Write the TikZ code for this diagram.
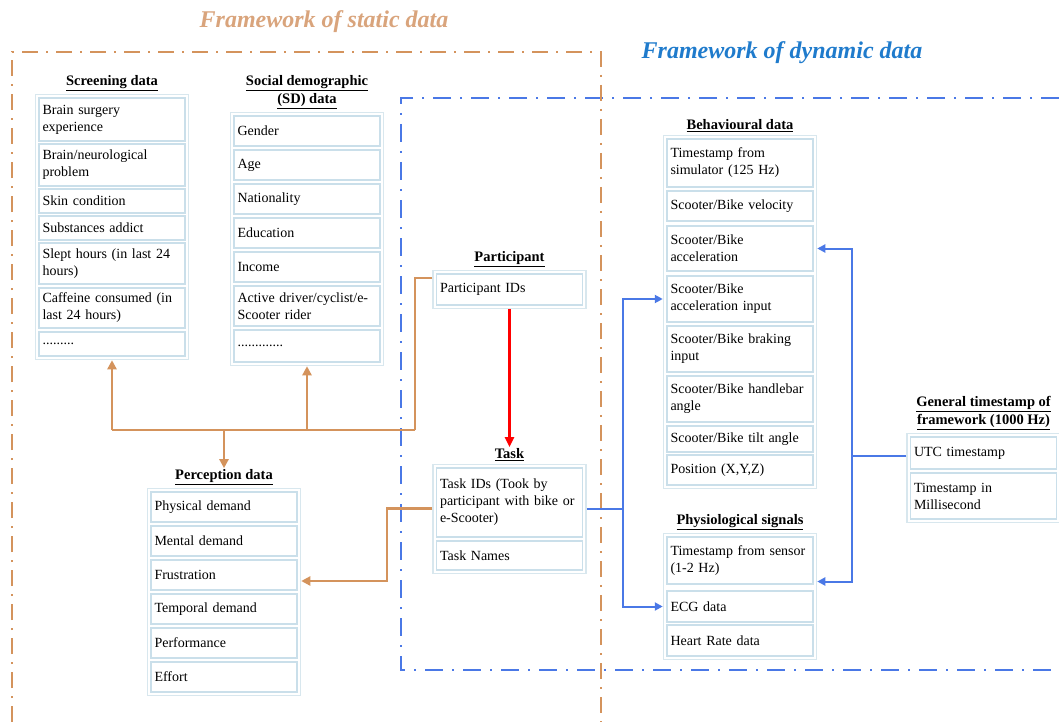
\documentclass[tikz,border=0pt]{standalone}
\usepackage{fontspec}
\setmainfont{Liberation Serif}
\usetikzlibrary{arrows.meta,positioning,calc,fit}
\definecolor{statictan}{HTML}{D9A47C}
\definecolor{staticline}{HTML}{D4935C}
\definecolor{dyntitle}{HTML}{1F7BCC}
\definecolor{dynline}{HTML}{4A78E6}
\definecolor{cellline}{HTML}{CADFEA}
\definecolor{groupline}{HTML}{D8E7EE}
\tikzset{
  cell/.style={draw=cellline,fill=white,line width=1.1pt,text width=139pt,
    inner xsep=3.5pt,inner ysep=0pt,align=left,font=\fontsize{14}{17}\selectfont},
  group/.style={draw=groupline,line width=1.4pt,inner sep=3pt},
  head/.style={font=\fontsize{14.5}{17.5}\selectfont\bfseries,align=center,inner sep=1pt},
  frametitle/.style={font=\fontsize{24}{28}\selectfont\bfseries\itshape,inner sep=0pt},
  staticframe/.style={draw=staticline,line width=2.4pt,dash pattern=on 16pt off 8pt on 2pt off 8pt},
  dynframe/.style={draw=dynline,line width=2.4pt,dash pattern=on 18pt off 9pt on 2pt off 9pt},
  oline/.style={draw=staticline,line width=2.4pt},
  oarrow/.style={oline,-{Triangle[length=9pt,width=9pt]}},
  bline/.style={draw=dynline,line width=2pt},
  barrow/.style={bline,-{Triangle[length=8pt,width=8pt]}},
  rarrow/.style={draw=red,line width=2.4pt,-{Triangle[length=10pt,width=9pt]}}
}
\begin{document}
\begin{tikzpicture}[x=1pt,y=-1pt]
  \useasboundingbox (0,0) rectangle (1059,722);
  % frames
  \draw[dynframe] (1059,98) -- (401,98) -- (401,670) -- (1059,670);
  \draw[staticframe] (12,722) -- (12,52) -- (601,52) -- (601,722);
  \node[frametitle,text=statictan] (statictext) at (324,22) {Framework of static data};
  \node[frametitle,text=dyntitle] (dyntext) at (782,53) {Framework of dynamic data};

  % screening
  \node[cell,minimum height=43pt] (s1) at (112,119.5) {Brain surgery\\experience};
  \node[cell,minimum height=42pt] (s2) at (112,165) {Brain/neurological\\problem};
  \node[cell,minimum height=24pt] (s3) at (112,201) {Skin condition};
  \node[cell,minimum height=24pt] (s4) at (112,228) {Substances addict};
  \node[cell,minimum height=41pt] (s5) at (112,263.5) {Slept hours (in last 24\\hours)};
  \node[cell,minimum height=40pt] (s6) at (112,308) {Caffeine consumed (in\\last 24 hours)};
  \node[cell,minimum height=24pt] (s7) at (112,344) {.........};
  \node[group,fit=(s1)(s7)] (screen) {};
  \node[head,above=2pt of screen] (screenhead) {\underline{Screening data}};

  % social demographic
  \node[cell,minimum height=30pt] (d1) at (307,131) {Gender};
  \node[cell,minimum height=30pt] (d2) at (307,165) {Age};
  \node[cell,minimum height=30pt] (d3) at (307,199) {Nationality};
  \node[cell,minimum height=30pt] (d4) at (307,233) {Education};
  \node[cell,minimum height=30pt] (d5) at (307,267) {Income};
  \node[cell,minimum height=40pt] (d6) at (307,306) {Active driver/cyclist/e-\\Scooter rider};
  \node[cell,minimum height=32pt] (d7) at (307,346) {.............};
  \node[group,fit=(d1)(d7)] (sd) {};
  \node[head,above=2pt of sd] (sdhead) {\underline{Social demographic}\\\underline{(SD) data}};

  % perception
  \node[cell,minimum height=30pt] (p1) at (224,507) {Physical demand};
  \node[cell,minimum height=30pt] (p2) at (224,541) {Mental demand};
  \node[cell,minimum height=30pt] (p3) at (224,575) {Frustration};
  \node[cell,minimum height=30pt] (p4) at (224,609) {Temporal demand};
  \node[cell,minimum height=30pt] (p5) at (224,643) {Performance};
  \node[cell,minimum height=30pt] (p6) at (224,677) {Effort};
  \node[group,fit=(p1)(p6)] (perc) {};
  \node[head,above=2pt of perc] (perchead) {\underline{Perception data}};

  % participant and task
  \node[cell,minimum height=31pt] (pid) at (509.5,289.5) {Participant IDs};
  \node[group,fit=(pid)] (pbox) {};
  \node[head,above=2pt of pbox] (phead) {\underline{Participant}};
  \node[cell,minimum height=69pt] (tids) at (509.5,502.5) {Task IDs (Took by\\participant with bike or\\e-Scooter)};
  \node[cell,minimum height=29pt] (tnames) at (509.5,555.5) {Task Names};
  \node[group,fit=(tids)(tnames)] (tbox) {};
  \node[head,above=2pt of tbox] (taskhead) {\underline{Task}};

  % behavioural
  \node[cell,minimum height=48pt] (b1) at (740,163) {Timestamp from\\simulator (125 Hz)};
  \node[cell,minimum height=30pt] (b2) at (740,206) {Scooter/Bike velocity};
  \node[cell,minimum height=45pt] (b3) at (740,248.5) {Scooter/Bike\\acceleration};
  \node[cell,minimum height=46pt] (b4) at (740,299) {Scooter/Bike\\acceleration input};
  \node[cell,minimum height=46pt] (b5) at (740,349) {Scooter/Bike braking\\input};
  \node[cell,minimum height=46pt] (b6) at (740,399) {Scooter/Bike handlebar\\angle};
  \node[cell,minimum height=26pt] (b7) at (740,439) {Scooter/Bike tilt angle};
  \node[cell,minimum height=30pt] (b8) at (740,470) {Position (X,Y,Z)};
  \node[group,fit=(b1)(b8)] (bbox) {};
  \node[head,above=2pt of bbox] (bhead) {\underline{Behavioural data}};

  % physiological
  \node[cell,minimum height=47pt] (f1) at (740,560.5) {Timestamp from sensor\\(1-2 Hz)};
  \node[cell,minimum height=31pt] (f2) at (740,606.5) {ECG data};
  \node[cell,minimum height=31pt] (f3) at (740,640.5) {Heart Rate data};
  \node[group,fit=(f1)(f3)] (fbox) {};
  \node[head,above=2pt of fbox] (fhead) {\underline{Physiological signals}};

  % general timestamp
  \node[cell,minimum height=32pt] (g1) at (983.5,453) {UTC timestamp};
  \node[cell,minimum height=46pt] (g2) at (983.5,496) {Timestamp in\\Millisecond};
  \node[group,fit=(g1)(g2)] (gbox) {};
  \node[head,above=2pt of gbox] (ghead) {\underline{General timestamp of}\\\underline{framework (1000 Hz)}};

  % connectors
  \coordinate (oj) at (415,430);
  \draw[oline] ($(pbox.north west)+(0,8)$) -| (oj);
  \draw[oline] (oj) -- (oj -| screen.south);
  \draw[oarrow] (oj -| screen.south) -- (screen.south);
  \draw[oarrow] (oj -| sd.south) -- (sd.south);
  \draw[oarrow] (oj -| perchead.north) -- (perchead.north);
  \draw[oarrow] ($(tbox.west |- tids)+(0,6)$) -- ++(-45,0) |- ($(perc.east |- p3)+(0,6)$);
  \draw[rarrow] (pbox.south) -- (taskhead.north);
  \draw[bline] ($(tbox.east |- tids)+(0,6)$) -- ++(36,0) coordinate (bj);
  \draw[barrow] (bj) |- (bbox.west |- b4);
  \draw[barrow] (bj) |- (fbox.west |- f2);
  \draw[bline] ($(gbox.west |- g1)+(0,3)$) -- ++(-54,0) coordinate (gj);
  \draw[barrow] (gj) |- (bbox.east |- b3);
  \draw[barrow] (gj) |- ($(fbox.east |- f1)+(0,21)$);
\end{tikzpicture}
\end{document}
